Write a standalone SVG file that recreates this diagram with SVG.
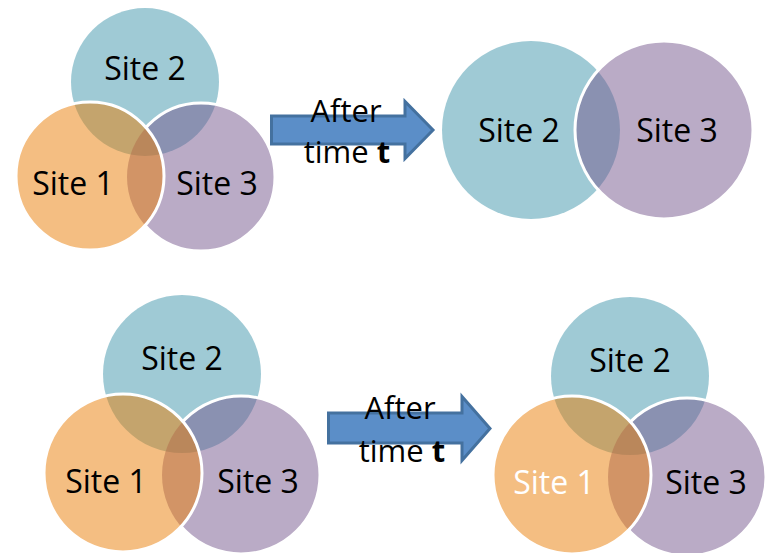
<svg xmlns="http://www.w3.org/2000/svg" width="765" height="553" viewBox="0 0 765 553">
<style>
.c1{fill:#e97d05;fill-opacity:0.5}
.c2{fill:#3f95ab;fill-opacity:0.5}
.c3{fill:#75578d;fill-opacity:0.5}
.ws{fill:none;stroke:#ffffff;stroke-width:3}
.lbl{font-family:"Open Sans","Liberation Sans",sans-serif;font-size:32px;fill:#000000;text-anchor:middle}
.arr{fill:#5b8ec8;stroke:#44719f;stroke-width:3;stroke-linejoin:miter}
.at{font-family:"Open Sans","Liberation Sans",sans-serif;font-size:31px;fill:#000000;text-anchor:middle}
</style>
<defs>
<mask id="mA" maskUnits="userSpaceOnUse" x="0" y="0" width="765" height="553">
<rect x="0" y="0" width="765" height="553" fill="#fff"/>
<circle cx="90" cy="176" r="74" fill="#000"/>
</mask>
<mask id="mC" maskUnits="userSpaceOnUse" x="0" y="0" width="765" height="553">
<rect x="0" y="0" width="765" height="553" fill="#fff"/>
<circle cx="123" cy="473" r="79" fill="#000"/>
</mask>
<mask id="mD" maskUnits="userSpaceOnUse" x="0" y="0" width="765" height="553">
<rect x="0" y="0" width="765" height="553" fill="#fff"/>
<circle cx="572" cy="475" r="79" fill="#000"/>
</mask>
</defs>

<g id="venn-top-left">
<g id="tl-site2"><circle class="c2" cx="145" cy="82" r="74"/></g>
<g id="tl-site3"><circle class="c3" cx="201" cy="177" r="74"/><circle class="ws" cx="201" cy="177" r="74" mask="url(#mA)"/></g>
<g id="tl-site1"><circle class="c1" cx="90" cy="176" r="74"/><circle class="ws" cx="90" cy="176" r="74"/></g>
<text class="lbl" x="145" y="80">Site 2</text>
<text class="lbl" x="73" y="195">Site 1</text>
<text class="lbl" x="217" y="195">Site 3</text>
</g>

<g id="venn-top-right">
<g id="tr-site2"><circle class="c2" cx="531" cy="130" r="89"/></g>
<g id="tr-site3"><circle class="c3" cx="664" cy="130" r="89"/><circle class="ws" cx="664" cy="130" r="89"/></g>
<text class="lbl" x="519" y="142">Site 2</text>
<text class="lbl" x="677" y="142">Site 3</text>
</g>

<g id="venn-bottom-left">
<g id="bl-site2"><circle class="c2" cx="182" cy="374" r="79"/></g>
<g id="bl-site3"><circle class="c3" cx="241" cy="475" r="79"/><circle class="ws" cx="241" cy="475" r="79" mask="url(#mC)"/></g>
<g id="bl-site1"><circle class="c1" cx="123" cy="473" r="79"/><circle class="ws" cx="123" cy="473" r="79"/></g>
<text class="lbl" x="182" y="370">Site 2</text>
<text class="lbl" x="106" y="493">Site 1</text>
<text class="lbl" x="258" y="493">Site 3</text>
</g>

<g id="venn-bottom-right">
<g id="br-site2"><circle class="c2" cx="630" cy="376" r="79"/></g>
<g id="br-site3"><circle class="c3" cx="687" cy="477" r="79"/><circle class="ws" cx="687" cy="477" r="79" mask="url(#mD)"/></g>
<g id="br-site1"><circle class="c1" cx="572" cy="475" r="79"/><circle class="ws" cx="572" cy="475" r="79"/></g>
<text class="lbl" x="630" y="372">Site 2</text>
<text class="lbl" x="554" y="494" fill="#ffffff" style="fill:#ffffff">Site 1</text>
<text class="lbl" x="706" y="494">Site 3</text>
</g>

<g id="connectors">
<g id="arrow-top">
<polygon class="arr" points="271.5,116 405,116 405,101.5 433,130 405,158.5 405,144 271.5,144"/>
<text class="at" x="346" y="122">After</text>
<text class="at" x="347" y="163">time <tspan font-weight="bold">t</tspan></text>
</g>
<g id="arrow-bottom">
<polygon class="arr" points="328.5,413 462,413 462,396.5 490,428.5 462,460.5 462,443 328.5,443"/>
<text class="at" x="400" y="419">After</text>
<text class="at" x="402" y="462">time <tspan font-weight="bold">t</tspan></text>
</g>
</g>
</svg>
